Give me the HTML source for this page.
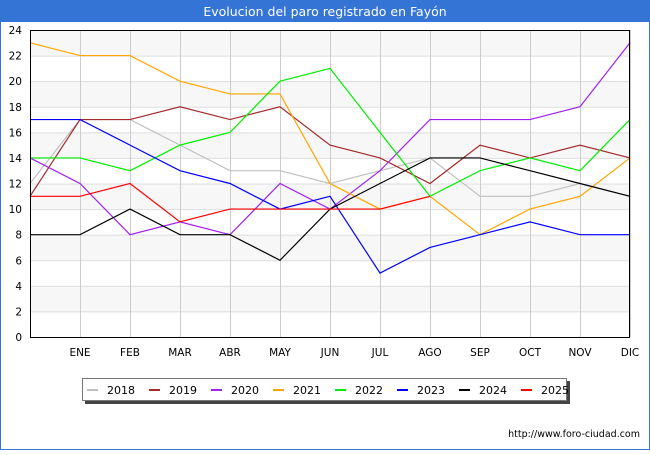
<!DOCTYPE html>
<html><head><meta charset="utf-8"><style>
body{margin:0;background:#fff;font-family:"Liberation Sans","DejaVu Sans",sans-serif}
svg text{font-family:"DejaVu Sans","Liberation Sans",sans-serif}
</style></head><body>
<svg width="650" height="450" viewBox="0 0 650 450" xmlns="http://www.w3.org/2000/svg">
<rect x="0.5" y="0.5" width="649" height="449" fill="#fff" stroke="#3474d4"/>
<rect x="0" y="0" width="650" height="22" fill="#3474d4"/>
<text x="325" y="16" text-anchor="middle" fill="#fff" font-size="12.5">Evolucion del paro registrado en Fayón</text>
<g id="grid"></g>
<g id="series"></g>
<rect x="30.5" y="30.5" width="599" height="307" fill="none" stroke="#000"/>
<g id="axes"></g>
<rect x="85" y="381" width="485" height="23" fill="#444"/>
<rect x="82.5" y="378.5" width="484" height="22" fill="#fff" stroke="#777"/>
<g id="legend"></g>
<text x="640" y="437" text-anchor="end" font-size="9.5" fill="#000">http://www.foro-ciudad.com</text>
</svg>
<script>
const months = ["", "ENE","FEB","MAR","ABR","MAY","JUN","JUL","AGO","SEP","OCT","NOV","DIC"];
const yTicks = [0,2,4,6,8,10,12,14,16,18,20,22,24];
const years = ["2018","2019","2020","2021","2022","2023","2024","2025"];
const colors = ["#c0c0c0","#a52a2a","#a020f0","#ffa500","#00ee00","#0000ff","#000000","#ff0000"];
const s2018 = [12,17,17,15,13,13,12,13,14,11,11,12,11];
const s2019 = [11,17,17,18,17,18,15,14,12,15,14,15,14];
const s2020 = [14,12,8,9,8,12,10,13,17,17,17,18,23];
const s2021 = [23,22,22,20,19,19,12,10,11,8,10,11,14];
const s2022 = [14,14,13,15,16,20,21,16,11,13,14,13,17];
const s2023 = [17,17,15,13,12,10,11,5,7,8,9,8,8];
const s2024 = [8,8,10,8,8,6,10,12,14,14,13,12,11];
const s2025 = [11,11,12,9,10,10,10,10,11];
const allSeries = [s2018,s2019,s2020,s2021,s2022,s2023,s2024,s2025];
const NS="http://www.w3.org/2000/svg";
const x = i => 30 + i*50;
const y = v => 337 - v*(307/24);
function mk(tag, attrs, parent){const e=document.createElementNS(NS,tag);for(const k in attrs)e.setAttribute(k,attrs[k]);parent.appendChild(e);return e;}
const grid=document.getElementById('grid'), axes=document.getElementById('axes'), ser=document.getElementById('series'), leg=document.getElementById('legend');
for(let k=0;k<yTicks.length-1;k++){
  if(k%2===1){const r=mk('rect',{x:30,y:y(yTicks[k+1]),width:600,height:y(yTicks[k])-y(yTicks[k+1]),fill:'#f7f7f7'},grid);
  
  }
}
yTicks.forEach(t=>{
  const l=mk('line',{x1:30,x2:630,y1:y(t)+0.5,y2:y(t)+0.5,stroke:'#ddd'},grid);
  
  
  const tx=mk('text',{x:22,y:y(t)+4,'text-anchor':'end','font-size':'10.5',fill:'#000'},axes);
  tx.textContent=t;
  
  
});
months.forEach((m,i)=>{
  if(i===0)return;
  const l=mk('line',{x1:x(i)+0.5,x2:x(i)+0.5,y1:30,y2:337,stroke:'#ccc'},grid);
  
  
  const tx=mk('text',{x:x(i),y:356,'text-anchor':'middle','font-size':'10.5',fill:'#000'},axes);
  tx.textContent=m;
  
  
});
allSeries.forEach((s,si)=>{
  const p=mk('polyline',{points:s.map((v,i)=>x(i)+','+y(v)).join(' '),fill:'none',stroke:colors[si],'stroke-width':1.2},ser);
  
  
});
years.forEach((yr,i)=>{
  const lx=87+i*62;
  const l=mk('line',{x1:lx,x2:lx+11,y1:390,y2:390,stroke:colors[i],'stroke-width':2},leg);
  
  
  const t=mk('text',{x:lx+20,y:394,'font-size':'11',fill:'#000'},leg);
  t.textContent=yr;
  
  
});
</script>
</body></html>
